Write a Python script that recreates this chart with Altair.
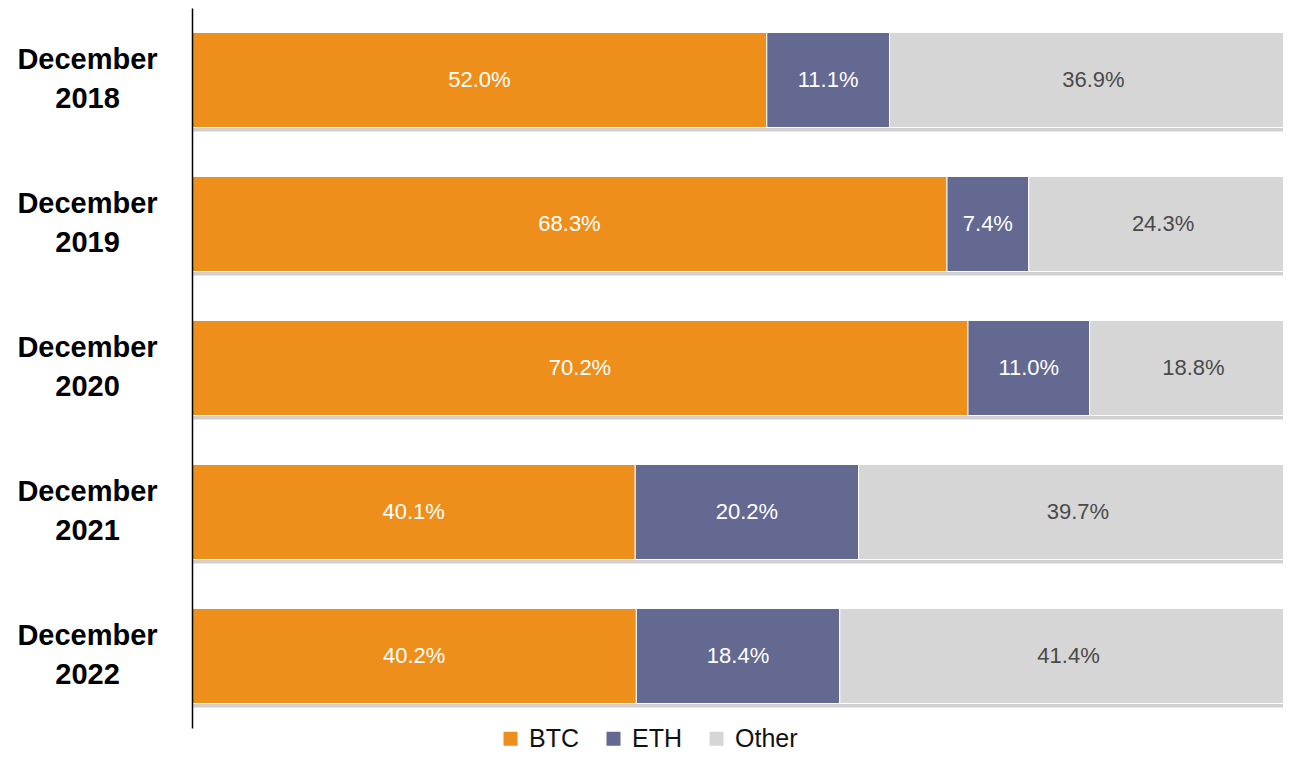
import altair as alt
import pandas as pd

periods = ["December 2018", "December 2019", "December 2020", "December 2021", "December 2022"]
series = ["BTC", "ETH", "Other"]
btc = [52.0, 68.3, 70.2, 40.1, 40.2]
eth = [11.1, 7.4, 11.0, 20.2, 18.4]
other = [36.9, 24.3, 18.8, 39.7, 41.4]

rows = []
for i, p in enumerate(periods):
    for j, (s, vals) in enumerate(zip(series, [btc, eth, other])):
        rows.append({"period": p, "series": s, "value": vals[i], "order": j})
df = pd.DataFrame(rows)

colors = ["#EE8F1C", "#636990", "#D6D6D6"]
FONT = "Liberation Sans"

yenc = alt.Y(
    "period:N",
    sort=periods,
    scale=alt.Scale(paddingInner=0.34, paddingOuter=0.17),
    axis=alt.Axis(
        title=None,
        ticks=False,
        tickSize=0,
        grid=False,
        zindex=1,
        domainColor="#000000",
        domainWidth=1.5,
        labelExpr="split(datum.label, ' ')",
        labelFont=FONT,
        labelFontSize=29,
        labelFontWeight="bold",
        labelColor="#000000",
        labelAlign="center",
        labelBaseline="middle",
        labelLineHeight=39,
        labelOffset=-20,
        labelPadding=105,
        minExtent=184,
        maxExtent=184,
    ),
)

# visible part of the 0-100% range (the right end of the bars runs off the edge)
xscale = alt.Scale(domain=[0, 98.7], nice=False, zero=True)

base = alt.Chart(df).transform_stack(
    stack="value", groupby=["period"], as_=["x0", "x1"], sort=[alt.SortField("order")]
).transform_calculate(mid="(datum.x0 + datum.x1) / 2")

shadow = alt.Chart(df).transform_filter(alt.datum.order == 0).transform_calculate(
    a="0", b="100"
).mark_bar(color="#b0b0b0", opacity=0.6, yOffset=4, clip=True).encode(
    x=alt.X("a:Q", scale=xscale, axis=None),
    x2="b:Q",
    y=yenc,
)

bars = base.mark_bar(stroke="white", strokeWidth=1, clip=True).encode(
    x=alt.X("x0:Q", scale=xscale, axis=None),
    x2="x1:Q",
    y=yenc,
    color=alt.Color(
        "series:N",
        sort=series,
        scale=alt.Scale(domain=series, range=colors),
        legend=alt.Legend(
            title=None,
            orient="none",
            direction="horizontal",
            legendX=306,
            legendY=718,
            symbolType="square",
            symbolSize=196,
            symbolStrokeWidth=0,
            labelFont=FONT,
            labelFontSize=25,
            labelColor="#111111",
            labelOffset=6,
            columnPadding=22,
        ),
    ),
)

texts = base.transform_calculate(
    label="format(datum.value, '.1f') + '%'"
).mark_text(font=FONT, fontSize=22, baseline="middle", align="center").encode(
    x=alt.X("mid:Q", scale=xscale, axis=None),
    y=yenc,
    text="label:N",
    color=alt.condition(alt.datum.series == "Other", alt.value("#4a4a4a"), alt.value("#ffffff")),
)

chart = (
    alt.layer(shadow, bars, texts)
    .properties(
        width=1091,
        height=720,
        padding={"left": 184, "top": 0, "right": 0, "bottom": 25},
        autosize=alt.AutoSizeParams(type="none"),
    )
    .configure(background="white", view=alt.ViewConfig(stroke=None))
)

chart.save("out.html", embed_options={"renderer": "svg", "actions": False})
